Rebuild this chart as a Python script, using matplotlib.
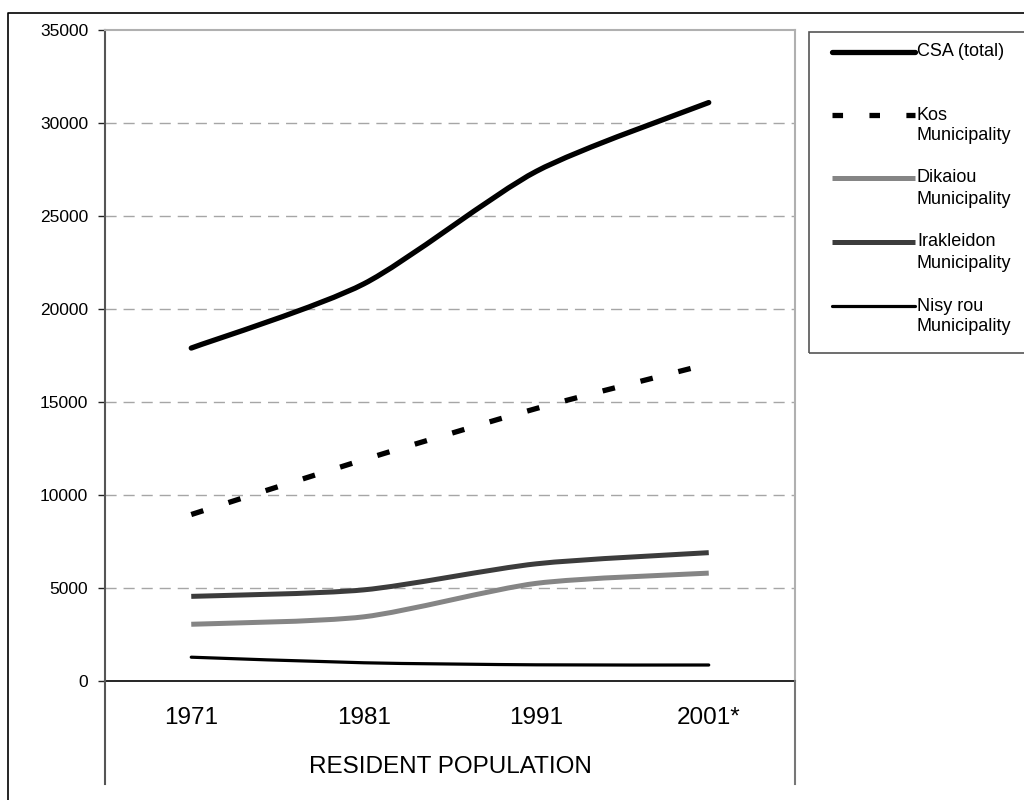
import numpy as np
import matplotlib.pyplot as plt
from matplotlib.path import Path
from matplotlib.patches import PathPatch
from matplotlib.lines import Line2D

plt.rcParams['font.family'] = ['Liberation Sans', 'DejaVu Sans']

# data
years = ['1971', '1981', '1991', '2001*']
csa_total = [17900, 21350, 27400, 31100]
kos = [8950, 11900, 14650, 17050]
dikaiou = [3050, 3450, 5250, 5800]
irakleidon = [4550, 4900, 6300, 6900]
nisyrou = [1280, 980, 870, 860]

W, H = 1024, 800
fig = plt.figure(figsize=(W / 100, H / 100), dpi=100)


def fx(px):
    return px / W


def fy(py):
    return 1 - py / H


# plot area
ax = fig.add_axes([fx(105), fy(681), fx(795) - fx(105), fy(30) - fy(681)])
ax.set_xlim(-0.5, 3.5)
ax.set_ylim(0, 35000)


def smooth_path(xs, ys, k=8.0):
    # excel-like smoothed line drawn as bezier segments through the data points
    pts = np.column_stack([xs, ys]).astype(float)
    n = len(pts)
    verts = [pts[0]]
    codes = [Path.MOVETO]
    for i in range(n - 1):
        p0 = pts[i - 1] if i > 0 else pts[i]
        p1 = pts[i]
        p2 = pts[i + 1]
        p3 = pts[i + 2] if i + 2 < n else pts[i + 1]
        verts += [p1 + (p2 - p0) / k, p2 - (p3 - p1) / k, p2]
        codes += [Path.CURVE4] * 3
    return Path(verts, codes)


xs = np.arange(len(years))
styles = [
    (csa_total, dict(edgecolor='black', lw=3.8, capstyle='round', joinstyle='round')),
    (kos, dict(edgecolor='black', lw=3.8, linestyle=(0, (2.4, 5.0)), capstyle='butt')),
    (dikaiou, dict(edgecolor='#858585', lw=3.6, capstyle='butt')),
    (irakleidon, dict(edgecolor='#3c3c3c', lw=3.6, capstyle='butt')),
    (nisyrou, dict(edgecolor='black', lw=2.3, capstyle='round')),
]
for vals, kw in styles:
    ax.add_patch(PathPatch(smooth_path(xs, vals), fill=False, zorder=3, **kw))

# grid
for v in range(5000, 35000, 5000):
    ax.axhline(v, color='#a6a6a6', lw=1.0, linestyle=(0, (8, 5)), zorder=1)

ax.set_yticks(range(0, 35001, 5000))
ax.set_xticks(xs, years)
ax.tick_params(axis='y', direction='out', length=5, width=1, color='#222222',
               labelsize=12.5, pad=7)
ax.tick_params(axis='x', length=0, labelsize=17.5, pad=19)

for s in ['top', 'right']:
    ax.spines[s].set_color('#b0b0b0')
    ax.spines[s].set_linewidth(1.5)
ax.spines['left'].set_color('#555555')
ax.spines['left'].set_linewidth(1.5)
ax.spines['bottom'].set_color('black')
ax.spines['bottom'].set_linewidth(1.2)

# axis lines extending below the category axis
fig.add_artist(Line2D([fx(105), fx(105)], [fy(681), fy(784)], color='#555555', lw=1.5))
fig.add_artist(Line2D([fx(795), fx(795)], [fy(681), fy(784)], color='#777777', lw=1.5))

fig.text(fx(450), fy(767), 'RESIDENT POPULATION', ha='center', va='center', fontsize=17.5)

# outer chart border
fig.add_artist(Line2D([fx(8), fx(8), 1.01], [-0.01, fy(13), fy(13)], color='black', lw=1.2))

# legend
fig.add_artist(plt.Rectangle((fx(809), fy(353)), 1.05 - fx(809), fy(32) - fy(353),
                             fill=False, edgecolor='#555555', lw=1.2))
legend_rows = [
    ('CSA (total)', None, 52, styles[0][1]),
    ('Kos', 'Municipality', 115, styles[1][1]),
    ('Dikaiou', 'Municipality', 178, styles[2][1]),
    ('Irakleidon', 'Municipality', 242, styles[3][1]),
    ('Nisy rou', 'Municipality', 306, styles[4][1]),
]
for name, second, py, kw in legend_rows:
    lkw = dict(color=kw['edgecolor'], lw=kw['lw'], solid_capstyle=kw['capstyle'])
    if 'linestyle' in kw:
        lkw['linestyle'] = (0, (2.0, 5.0))
        lkw['dash_capstyle'] = 'butt'
    fig.add_artist(Line2D([fx(832), fx(915)], [fy(py), fy(py)], **lkw))
    fig.text(fx(917), fy(py), name, ha='left', va='center', fontsize=13)
    if second:
        fig.text(fx(917), fy(py + 21), second, ha='left', va='center', fontsize=13)

fig.savefig('out.png', dpi=100)
